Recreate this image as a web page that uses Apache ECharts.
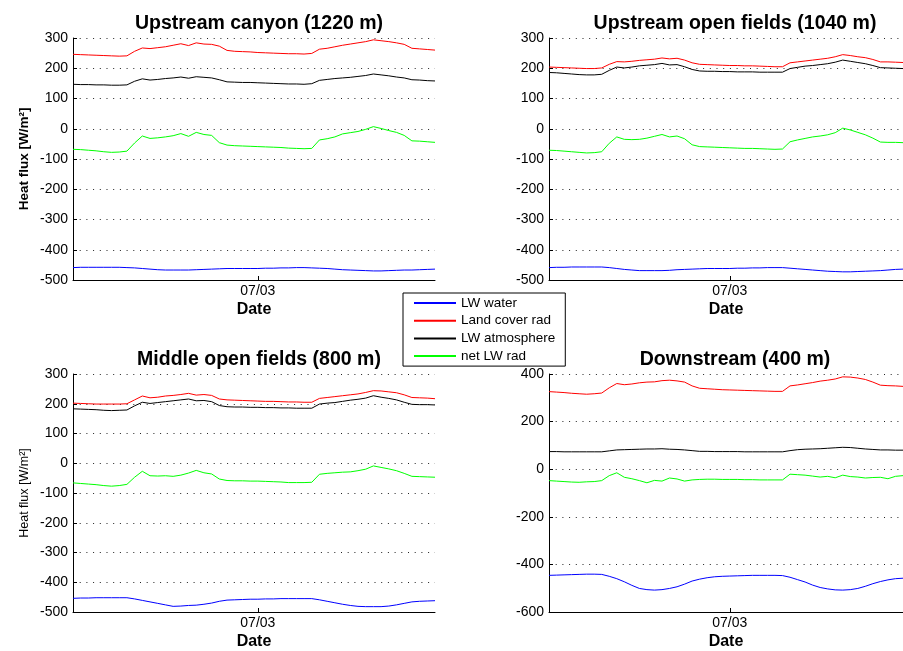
<!DOCTYPE html>
<html>
<head>
<meta charset="utf-8">
<script src="https://cdn.jsdelivr.net/npm/echarts@6/dist/echarts.min.js"></script>
<style>
  html, body { margin: 0; padding: 0; background: #fff; }
  #chart { width: 903px; height: 651px; }
</style>
</head>
<body>
<div id="chart"></div>
<script>
// Hours since the start of the record (07/02 00:00), hourly samples
const hours = [0,1,2,3,4,5,6,7,8,9,10,11,12,13,14,15,16,17,18,19,20,21,22,23,
               24,25,26,27,28,29,30,31,32,33,34,35,36,37,38,39,40,41,42,43,44,45,46,47];
const xTickHours = [24];
const xTickLabels = ['07/03'];

const seriesNames = ['LW water', 'Land cover rad', 'LW atmosphere', 'net LW rad'];
const seriesColors = ['#0000ff', '#ff0000', '#000000', '#00ff00'];

// Upstream canyon (1220 m)
const canyonWater = [-459,-458,-458,-458,-458,-458,-458,-459,-460,-462,-464,-466,-467,-467,-467,-467,-466,-465,-464,-463,-462,-462,-462,-462,
                     -462,-461,-461,-460,-460,-459,-459,-460,-461,-462,-464,-466,-467,-468,-469,-470,-470,-469,-468,-467,-467,-466,-465,-464];
const canyonLand  = [246,245,244,243,242,241,240,241,256,267,265,268,271,276,281,275,284,280,279,273,259,256,255,254,
                     252,251,250,249,248,248,247,249,263,266,271,276,280,284,288,294,291,288,284,279,266,264,262,260];
const canyonAtm   = [147,146,146,145,145,144,144,145,157,165,161,163,166,168,171,167,172,170,168,162,155,154,153,153,
                     152,151,150,149,148,148,147,149,160,163,166,168,170,173,176,181,178,175,171,168,162,161,159,158];
const canyonNet   = [-68,-69,-71,-73,-76,-78,-77,-74,-47,-24,-32,-30,-27,-23,-16,-25,-12,-19,-22,-46,-54,-56,-57,-58,
                     -59,-60,-61,-62,-64,-65,-66,-65,-37,-33,-27,-17,-13,-9,-2,7,1,-6,-12,-22,-40,-41,-43,-45];

// Upstream open fields (1040 m)
const upFieldsWater = [-459,-458,-458,-457,-457,-457,-457,-457,-459,-462,-465,-467,-469,-469,-469,-469,-468,-466,-465,-464,-463,-462,-462,-462,
                       -462,-461,-461,-460,-460,-459,-459,-459,-461,-463,-465,-467,-469,-471,-472,-473,-473,-472,-471,-470,-469,-467,-465,-464];
const upFieldsLand  = [204,203,202,201,200,199,199,201,213,222,221,223,226,228,230,234,231,233,227,218,213,212,211,210,
                       209,209,208,208,207,206,205,205,218,221,224,227,230,233,238,245,242,238,235,229,221,221,220,219];
const upFieldsAtm   = [186,185,183,181,179,178,178,180,193,204,201,204,208,210,212,216,211,212,205,196,191,190,190,189,
                       189,188,188,188,187,187,187,187,199,203,207,209,212,215,220,227,223,219,215,209,202,201,200,199];
const upFieldsNet   = [-71,-72,-74,-76,-78,-80,-79,-76,-48,-27,-35,-36,-35,-31,-25,-19,-27,-24,-33,-53,-59,-60,-61,-62,
                       -63,-64,-65,-65,-66,-67,-68,-67,-43,-37,-32,-27,-24,-20,-13,2,-4,-12,-20,-31,-44,-45,-45,-46];

// Middle open fields (800 m)
const midWater = [-454,-453,-453,-452,-452,-452,-452,-452,-456,-461,-466,-471,-476,-481,-480,-478,-477,-474,-470,-464,-460,-459,-458,-457,
                  -457,-456,-456,-455,-455,-455,-455,-455,-459,-464,-469,-474,-478,-481,-482,-482,-482,-480,-476,-471,-466,-464,-463,-462];
const midLand  = [202,201,200,199,199,199,199,200,213,226,220,222,226,228,231,235,229,231,228,216,213,212,211,210,
                  209,208,208,207,206,206,205,205,218,221,224,227,230,233,238,244,243,240,237,230,221,220,219,217];
const midAtm   = [183,182,181,180,178,177,178,179,193,205,201,204,207,210,213,216,210,211,207,194,190,189,189,188,
                  188,187,187,186,186,185,185,185,199,202,204,208,212,215,219,227,222,218,213,205,198,197,197,196];
const midNet   = [-66,-68,-70,-72,-75,-77,-75,-71,-47,-27,-42,-43,-42,-44,-40,-33,-24,-32,-36,-53,-58,-59,-59,-60,
                  -60,-61,-62,-63,-65,-65,-65,-64,-37,-34,-32,-30,-29,-25,-20,-9,-14,-19,-25,-34,-44,-45,-46,-47];

// Downstream (400 m)
const downWater = [-446,-445,-444,-443,-442,-441,-441,-442,-450,-460,-473,-488,-501,-506,-508,-506,-501,-494,-483,-470,-462,-456,-452,-450,
                   -449,-448,-447,-446,-446,-446,-446,-447,-454,-464,-474,-487,-497,-503,-507,-508,-506,-501,-492,-481,-472,-465,-460,-458];
const downLand  = [326,324,322,319,317,315,317,320,342,360,355,358,363,366,367,372,374,371,366,350,340,338,336,334,
                   333,332,331,330,329,328,327,327,350,354,359,364,370,374,379,388,387,383,377,366,353,351,350,348];
const downAtm   = [74,74,73,73,73,73,73,73,77,81,82,83,84,85,85,86,84,83,81,78,75,75,74,74,
                   74,74,73,73,73,73,73,73,78,82,84,85,86,88,90,92,91,88,85,83,81,81,80,80];
const downNet   = [-48,-50,-52,-54,-55,-53,-52,-48,-27,-15,-34,-40,-48,-57,-47,-50,-37,-41,-50,-45,-43,-42,-42,-43,
                   -43,-43,-44,-44,-45,-45,-45,-45,-21,-23,-25,-29,-33,-30,-36,-25,-31,-33,-37,-35,-34,-40,-30,-27];

const FONT = '"Liberation Sans", Arial, Helvetica, sans-serif';

const panels = [
  { title: 'Upstream canyon (1220 m)', box: { left: 73, top: 38, width: 362, height: 242 },
    yMin: -500, yMax: 300, yStep: 100, yName: 'Heat flux [W/m²]', yNameBold: true,
    data: [canyonWater, canyonLand, canyonAtm, canyonNet] },
  { title: 'Upstream open fields (1040 m)', box: { left: 549, top: 38, width: 362, height: 242 },
    yMin: -500, yMax: 300, yStep: 100, yName: '',
    data: [upFieldsWater, upFieldsLand, upFieldsAtm, upFieldsNet] },
  { title: 'Middle open fields (800 m)', box: { left: 73, top: 374, width: 362, height: 243 },
    yMin: -500, yMax: 300, yStep: 100, yName: 'Heat flux [W/m²]', yNameBold: false,
    data: [midWater, midLand, midAtm, midNet] },
  { title: 'Downstream (400 m)', box: { left: 549, top: 374, width: 362, height: 243 },
    yMin: -600, yMax: 400, yStep: 200, yName: '',
    data: [downWater, downLand, downAtm, downNet] }
];

const option = {
  animation: false,
  backgroundColor: '#fff',
  textStyle: { fontFamily: FONT },
  title: [], grid: [], xAxis: [], yAxis: [], series: [],
  legend: {
    data: seriesNames,
    orient: 'vertical',
    left: 403, top: 293,
    padding: [3, 10, 3, 10],
    itemWidth: 42, itemHeight: 14, itemGap: 3.7,
    itemStyle: { opacity: 0 },
    backgroundColor: '#fff',
    borderColor: '#000', borderWidth: 1,
    textStyle: { fontFamily: FONT, fontSize: 13.5, color: '#000' }
  }
};

panels.forEach((p, i) => {
  option.title.push({
    text: p.title,
    left: p.box.left + p.box.width / 2,
    top: p.box.top - 29,
    textAlign: 'center',
    textStyle: { fontFamily: FONT, fontSize: 19.5, fontWeight: 'bold', color: '#000' }
  });
  option.grid.push(Object.assign({ containLabel: false }, p.box));
  option.xAxis.push({
    type: 'value', gridIndex: i, min: 0, max: 47,
    name: 'Date', nameLocation: 'middle', nameGap: 22,
    nameTextStyle: { fontFamily: FONT, fontSize: 16, fontWeight: 'bold', color: '#000' },
    axisLine: { show: true, onZero: false, lineStyle: { color: '#000', width: 1 } },
    axisTick: { show: true, inside: true, length: 4, customValues: xTickHours, lineStyle: { color: '#000' } },
    axisLabel: {
      show: true, margin: 4, color: '#000', fontFamily: FONT, fontSize: 14,
      customValues: xTickHours,
      formatter: v => xTickLabels[xTickHours.indexOf(v)] || ''
    },
    splitLine: { show: false }
  });
  option.yAxis.push({
    type: 'value', gridIndex: i, min: p.yMin, max: p.yMax, interval: p.yStep,
    name: p.yName, nameLocation: 'middle', nameGap: 42,
    nameTextStyle: { fontFamily: FONT, fontSize: p.yNameBold ? 13.5 : 12.5,
                     fontWeight: p.yNameBold ? 'bold' : 'normal', color: '#000' },
    axisLine: { show: true, onZero: false, lineStyle: { color: '#000', width: 1 } },
    axisTick: { show: true, inside: true, length: 4, lineStyle: { color: '#000' } },
    axisLabel: { color: '#000', fontFamily: FONT, fontSize: 14, margin: 5 },
    splitLine: { show: true, lineStyle: { color: '#222', width: 1, type: [1, 5.7] } }
  });
  p.data.forEach((vals, k) => {
    option.series.push({
      name: seriesNames[k], type: 'line', xAxisIndex: i, yAxisIndex: i,
      data: hours.map((h, j) => [h, vals[j]]),
      showSymbol: false, symbol: 'none', smooth: false,
      lineStyle: { color: seriesColors[k], width: 1 },
      itemStyle: { color: seriesColors[k] },
      emphasis: { disabled: true }
    });
  });
});

const chart = echarts.init(document.getElementById('chart'), null, { renderer: 'canvas' });
chart.setOption(option);
</script>
</body>
</html>
